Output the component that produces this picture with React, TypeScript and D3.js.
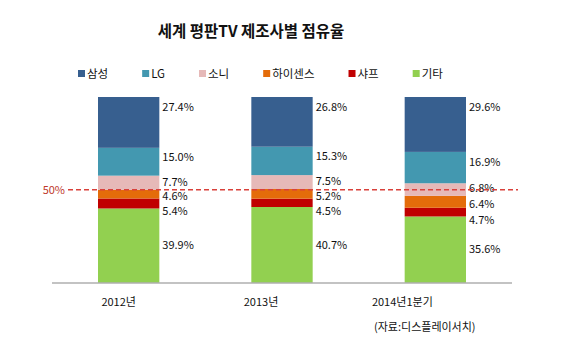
import React, { useEffect, useRef } from "react";
import * as d3 from "d3";

const categories = ["2012년", "2013년", "2014년1분기"];
const seriesNames = ["삼성", "LG", "소니", "하이센스", "샤프", "기타"];
const samsung = [27.4, 26.8, 29.6];
const lg = [15.0, 15.3, 16.9];
const sony = [7.7, 7.5, 6.8];
const hisense = [4.6, 5.2, 6.4];
const sharp = [5.4, 4.5, 4.7];
const others = [39.9, 40.7, 35.6];
const refValue = 50;
const refLabel = "50%";
const title = "세계 평판TV 제조사별 점유율";
const source = "(자료:디스플레이서치)";

const colors = ["#375f8f", "#4398b0", "#e6b9b8", "#e46c0a", "#c00000", "#92d050"];
// label vertical nudges per series (px), top series anchored near the top of the segment
const labelNudge = [0, -5, -1, 2, 8, 0];
// category label horizontal shift (px)
const catLabelShift = [-10, -21, -33];

const FONT = "'Noto Sans CJK KR', 'Noto Sans', sans-serif";

export default function App() {
  const ref = useRef<SVGSVGElement>(null);

  useEffect(() => {
    const svg = d3.select(ref.current);
    svg.selectAll("*").remove();

    const W = 564, H = 356;
    const x0 = 52, x1 = 512, yTop = 97, yBase = 282.5;

    const x = d3.scaleBand().domain(categories).range([x0, x1]).paddingInner(0.6).paddingOuter(0.3);
    const y = d3.scaleLinear().domain([0, 100]).range([yBase, yTop]);

    svg.append("rect").attr("width", W).attr("height", H).attr("fill", "#fff");

    // title
    svg.append("text").attr("x", 251).attr("y", 37).attr("text-anchor", "middle")
      .attr("font-family", FONT).attr("font-weight", "bold").attr("font-size", 15.5)
      .attr("fill", "#111").text(title);

    // data in stacking order (bottom first)
    const all = [samsung, lg, sony, hisense, sharp, others];
    const rows = categories.map((c, i) => {
      const o: any = { cat: c };
      seriesNames.forEach((s, k) => (o[s] = all[k][i]));
      return o;
    });
    const stackKeys = [...seriesNames].reverse();
    const stacked = d3.stack().keys(stackKeys)(rows);

    const g = svg.append("g");
    stacked.forEach((layer) => {
      const k = seriesNames.indexOf(layer.key);
      g.selectAll(null).data(layer).enter().append("rect")
        .attr("x", (d: any) => x(d.data.cat)!)
        .attr("width", x.bandwidth())
        .attr("y", (d: any) => y(d[1]))
        .attr("height", (d: any) => y(d[0]) - y(d[1]))
        .attr("fill", colors[k]);
    });

    // labels
    stacked.forEach((layer) => {
      const k = seriesNames.indexOf(layer.key);
      g.selectAll(null).data(layer).enter().append("text")
        .attr("x", (d: any) => x(d.data.cat)! + x.bandwidth() + 3)
        .attr("y", (d: any) => (k === 0 ? y(d[1]) + 10 : (y(d[0]) + y(d[1])) / 2 + labelNudge[k]))
        .attr("dy", "0.35em")
        .attr("font-family", FONT).attr("font-size", 11).attr("fill", "#111")
        .text((d: any) => (d[1] - d[0]).toFixed(1) + "%");
    });

    // axis line
    svg.append("line").attr("x1", x0).attr("x2", x1).attr("y1", yBase + 0.5).attr("y2", yBase + 0.5)
      .attr("stroke", "#888").attr("stroke-width", 1.2);

    // category labels
    categories.forEach((c, i) => {
      svg.append("text").attr("x", x(c)! + x.bandwidth() / 2 + catLabelShift[i]).attr("y", 302)
        .attr("dy", "0.35em").attr("text-anchor", "middle")
        .attr("font-family", FONT).attr("font-size", 11).attr("fill", "#111").text(c);
    });

    // 50% reference line
    svg.append("line").attr("x1", 68).attr("x2", 518).attr("y1", y(refValue)).attr("y2", y(refValue))
      .attr("stroke", "#d9413b").attr("stroke-width", 1.6).attr("stroke-dasharray", "5,3");
    svg.append("text").attr("x", 65).attr("y", y(refValue)).attr("dy", "0.35em").attr("text-anchor", "end")
      .attr("font-family", FONT).attr("font-size", 11).attr("fill", "#c0392b").text(refLabel);

    // legend
    let lx = 78;
    seriesNames.forEach((s, k) => {
      svg.append("rect").attr("x", lx).attr("y", 70).attr("width", 7).attr("height", 7).attr("fill", colors[k]);
      const t = svg.append("text").attr("x", lx + 9).attr("y", 73.5).attr("dy", "0.35em")
        .attr("font-family", FONT).attr("font-size", 11.5).attr("fill", "#111").text(s);
      const w = (t.node() as SVGTextElement).getComputedTextLength();
      lx += 9 + w + 34;
    });

    // source
    svg.append("text").attr("x", 374).attr("y", 327).attr("dy", "0.35em")
      .attr("font-family", FONT).attr("font-size", 11).attr("fill", "#111").text(source);
  }, []);

  return <svg ref={ref} width={564} height={356} style={{ display: "block", margin: "-8px" }} />;
}
